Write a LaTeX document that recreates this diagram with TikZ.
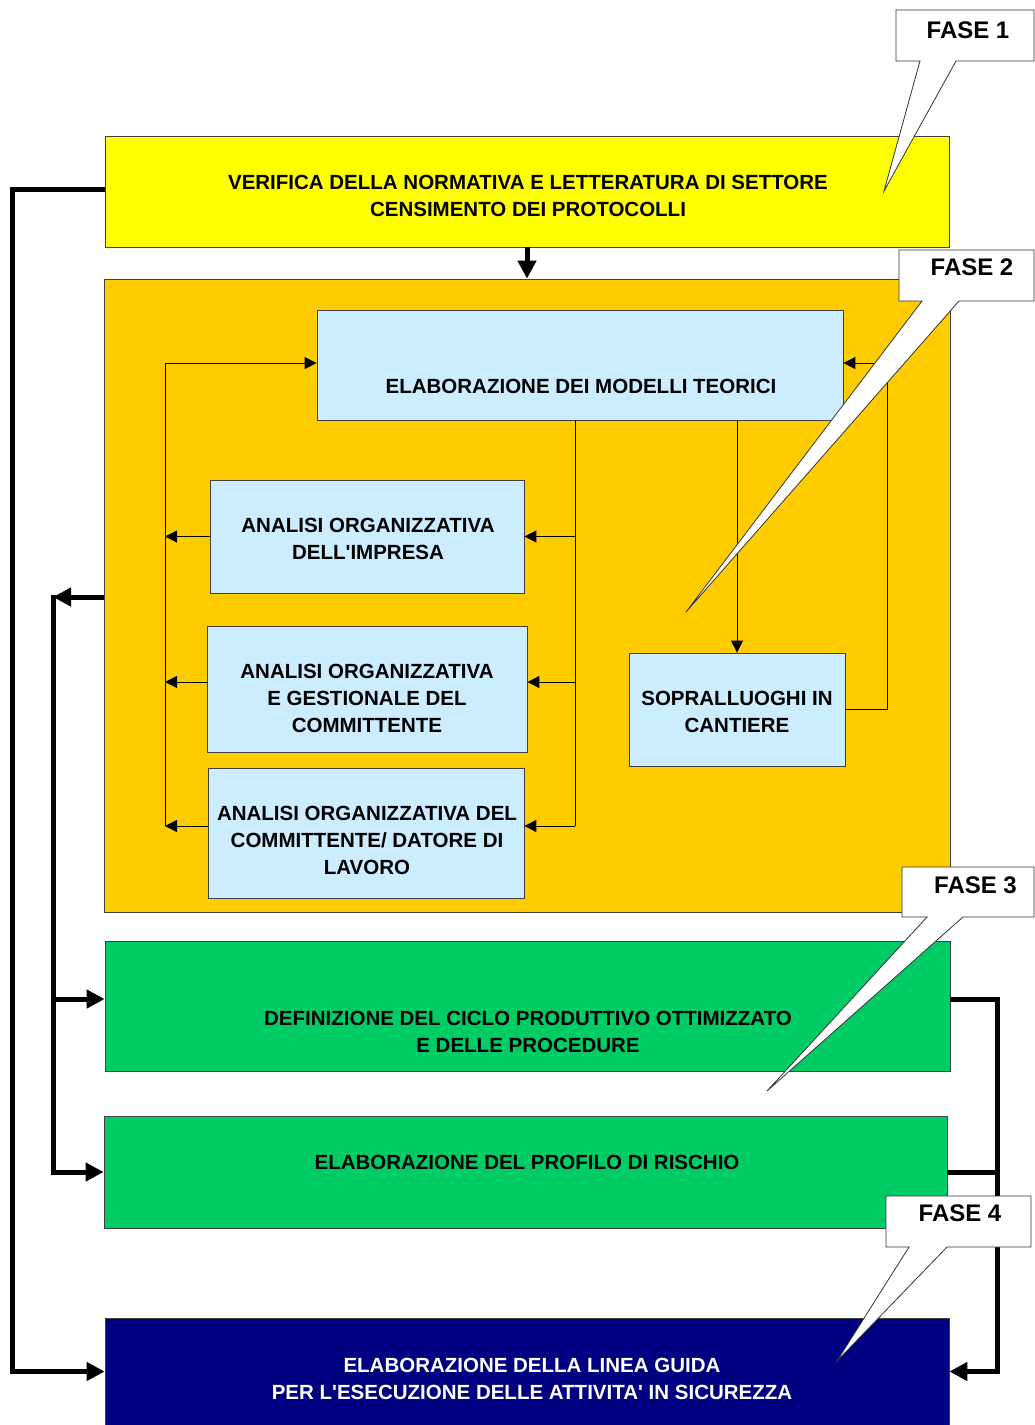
\documentclass[tikz,border=0pt]{standalone}
\usepackage{fontspec}
\setmainfont{Liberation Sans}
\usetikzlibrary{arrows.meta,calc}
\definecolor{yel}{HTML}{FFFF00}
\definecolor{org}{HTML}{FFCC00}
\definecolor{lbl}{HTML}{CCECFF}
\definecolor{grn}{HTML}{00CC66}
\definecolor{nav}{HTML}{000080}
\begin{document}
\begin{tikzpicture}[x=1pt,y=-1pt,
  box/.style={draw=black!75,line width=0.8pt,inner sep=0pt,anchor=center},
  txt/.style={font=\fontsize{20.5}{27}\selectfont\bfseries,align=center,inner sep=0pt},
  thinline/.style={line width=1pt},
  thinarrow/.style={line width=1pt,-{Triangle[length=12pt,width=12pt]}},
  thickline/.style={line width=5pt},
  thickarrow/.style={line width=5pt,-{Triangle[length=18pt,width=18pt]}},
  callout/.style={fill=white,draw=black!80,line width=0.8pt,line join=miter},
  fasetxt/.style={font=\fontsize{24}{28}\selectfont\bfseries,inner sep=0pt}]
\useasboundingbox (0,0) rectangle (1035,1425);

% main boxes
\node[box,fill=yel,minimum width=844pt,minimum height=111pt] (ver) at (527,191.5) {};
\node[txt] (verT) at (528,195.5) {VERIFICA DELLA NORMATIVA E LETTERATURA DI SETTORE\\CENSIMENTO DEI PROTOCOLLI};

\node[box,fill=org,minimum width=846pt,minimum height=633pt] (orb) at (527,595.5) {};

\node[box,fill=lbl,minimum width=526pt,minimum height=110pt] (mod) at (580,365) {};
\node[txt] (modT) at (581,386) {ELABORAZIONE DEI MODELLI TEORICI};

\node[box,fill=lbl,minimum width=314pt,minimum height=113pt] (imp) at (367,536.5) {};
\node[txt] (impT) at (368,539) {ANALISI ORGANIZZATIVA\\DELL\textquotesingle IMPRESA};

\node[box,fill=lbl,minimum width=320pt,minimum height=126pt] (ges) at (367,689) {};
\node[txt] (gesT) at (367,698) {ANALISI ORGANIZZATIVA\\E GESTIONALE DEL\\COMMITTENTE};

\node[box,fill=lbl,minimum width=316pt,minimum height=130pt] (dat) at (366,833) {};
\node[txt] (datT) at (367,840) {ANALISI ORGANIZZATIVA DEL\\COMMITTENTE/ DATORE DI\\LAVORO};

\node[box,fill=lbl,minimum width=216pt,minimum height=113pt] (sop) at (737,709.5) {};
\node[txt] (sopT) at (737,711.5) {SOPRALLUOGHI IN\\CANTIERE};

\node[box,fill=grn,minimum width=845pt,minimum height=130pt] (g1) at (527.5,1006) {};
\node[txt] (g1T) at (528,1031.5) {DEFINIZIONE DEL CICLO PRODUTTIVO OTTIMIZZATO\\E DELLE PROCEDURE};

\node[box,fill=grn,minimum width=843pt,minimum height=112pt] (g2) at (525.5,1172) {};
\node[txt] (g2T) at (527,1162) {ELABORAZIONE DEL PROFILO DI RISCHIO};

\node[box,fill=nav,minimum width=844pt,minimum height=107pt] (fin) at (527,1371.5) {};
\node[txt,text=white] (finT) at (532,1378.5) {ELABORAZIONE DELLA LINEA GUIDA\\PER L\textquotesingle ESECUZIONE DELLE ATTIVITA\textquotesingle\ IN SICUREZZA};

% thick connectors
\draw[thickarrow] (ver.south) -- (orb.north);
\coordinate (lbus) at (12,0);
\coordinate (vw) at ([yshift=2.5pt]ver.west);
\draw[thickarrow] (vw) -- (vw -| lbus) -- (fin.west -| lbus) -- (fin.west);

\coordinate (mbus) at (53,597);
\coordinate (g1w) at ([yshift=7pt]g1.west);
\draw[thickarrow] (orb.west |- mbus) -- (mbus);
\draw[thickarrow] ([yshift=2.5pt]mbus) -- (mbus |- g2.west) -- (g2.west);
\draw[thickarrow] (mbus |- g1w) -- (g1w);

\coordinate (rbus) at (997,0);
\coordinate (g1e) at ([yshift=7pt]g1.east);
\draw[thickarrow] (g1e) -- (g1e -| rbus) -- (fin.east -| rbus) -- (fin.east);
\draw[thickline] (g2.east) -- (g2.east -| rbus);

% thin connectors
\coordinate (lb2) at (165,0);
\coordinate (mw) at ([yshift=2pt]mod.west);
\coordinate (gw) at ([yshift=7pt]ges.west);
\coordinate (dw) at ([yshift=7pt]dat.west);
\draw[thinarrow] (mw -| lb2) -- (mw);
\draw[thinline] (mw -| lb2) -- (dw -| lb2);
\draw[thinarrow] (imp.west) -- (imp.west -| lb2);
\draw[thinarrow] (gw) -- (gw -| lb2);
\draw[thinarrow] (dw) -- (dw -| lb2);

\coordinate (rb2) at (575,0);
\coordinate (ge) at ([yshift=7pt]ges.east);
\coordinate (de) at ([yshift=7pt]dat.east);
\draw[thinline] (mod.south -| rb2) -- (de -| rb2);
\draw[thinarrow] (imp.east -| rb2) -- (imp.east);
\draw[thinarrow] (ge -| rb2) -- (ge);
\draw[thinarrow] (de -| rb2) -- (de);

\draw[thinarrow] (mod.south -| sop.north) -- (sop.north);
\coordinate (rb3) at (887,0);
\coordinate (me) at ([yshift=2pt]mod.east);
\draw[thinarrow] (sop.east) -- (sop.east -| rb3) -- (me -| rb3) -- (me);

% callouts
\draw[callout] (896,10) -- (1034,10) -- (1034,61) -- (956,61) -- (884,191) -- (920,61) -- (896,61) -- cycle;
\node[fasetxt] (f1) at (968,30) {FASE 1};
\draw[callout] (899,250) -- (1034,250) -- (1034,301) -- (959,301) -- (686,612) -- (922,301) -- (899,301) -- cycle;
\node[fasetxt] (f2) at (972,267) {FASE 2};
\draw[callout] (902,867) -- (1034,867) -- (1034,917) -- (963,917) -- (767,1091) -- (927,917) -- (902,917) -- cycle;
\node[fasetxt] (f3) at (975.5,885.5) {FASE 3};
\draw[callout] (886,1196) -- (1031,1196) -- (1031,1247) -- (947,1247) -- (837,1361) -- (909,1247) -- (886,1247) -- cycle;
\node[fasetxt] (f4) at (960,1213) {FASE 4};
\end{tikzpicture}
\end{document}
